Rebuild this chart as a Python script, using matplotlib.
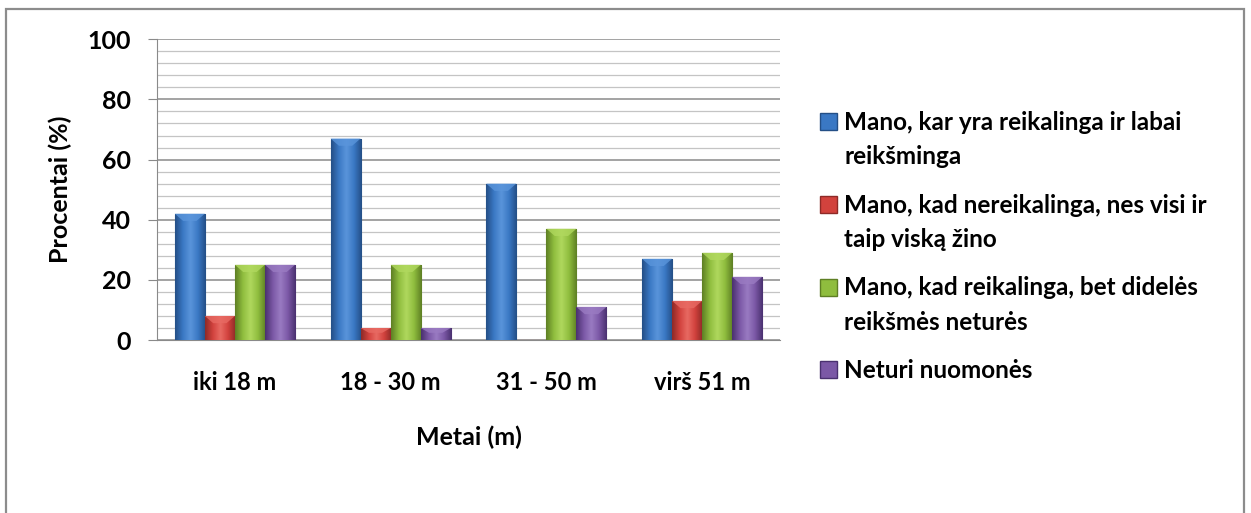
import numpy as np
import matplotlib
matplotlib.use("Agg")
import matplotlib.pyplot as plt
from matplotlib.patches import Rectangle
from matplotlib.colors import LinearSegmentedColormap
from matplotlib.legend_handler import HandlerPatch

plt.rcParams['font.family'] = ['Lato', 'DejaVu Sans']

# Data
categories = ["iki 18 m", "18 - 30 m", "31 - 50 m", "virš 51 m"]
series_names = [
    "Mano, kar yra reikalinga ir labai\nreikšminga",
    "Mano, kad nereikalinga, nes visi ir\ntaip viską žino",
    "Mano, kad reikalinga, bet didelės\nreikšmės neturės",
    "Neturi nuomonės",
]
blue_vals = [42, 67, 52, 27]
red_vals = [8, 4, 0, 13]
green_vals = [25, 25, 37, 29]
purple_vals = [25, 4, 11, 21]
series_values = [blue_vals, red_vals, green_vals, purple_vals]

# (dark edge, mid, light) per series
colors = [
    ("#244f86", "#3a78c4", "#5a95db"),
    ("#8e2a27", "#d2423d", "#e86a63"),
    ("#5e7f24", "#8fbd3e", "#b0d85e"),
    ("#4a3170", "#7b58a6", "#9a7bc2"),
]

fig = plt.figure(figsize=(12.51, 5.13), dpi=100)
# outer chart border (bottom edge runs off the image)
fig.patches.append(Rectangle((0.0048, -0.02), 0.9896, 1.0034, transform=fig.transFigure,
                             fill=False, edgecolor="#8c8c8c", linewidth=1.6))

ax = fig.add_axes([0.1255, 0.3372, 0.498, 0.5862])
x = np.arange(len(categories))
width = 0.193
offsets = (np.arange(4) - 1.5) * width

for i, vals in enumerate(series_values):
    dark, mid, light = colors[i]
    cmap = LinearSegmentedColormap.from_list("b%d" % i, [dark, mid, light, mid, dark])
    bars = ax.bar(x + offsets[i], vals, width, color=mid, edgecolor=dark,
                  linewidth=0.8, zorder=3)
    grad = np.linspace(0, 1, 64).reshape(1, -1)
    for b in bars:
        if b.get_height() <= 0:
            continue
        x0, w, h = b.get_x(), b.get_width(), b.get_height()
        im = ax.imshow(grad, cmap=cmap, extent=[x0, x0 + w, 0, h], aspect="auto",
                       zorder=3.5, interpolation="bicubic")
        im.set_clip_path(b)
        # bevel highlight at the top
        bev = min(2.4, h * 0.4)
        ax.fill([x0, x0 + w, x0 + w * 0.72, x0 + w * 0.28],
                [h, h, h - bev, h - bev],
                color=light, alpha=0.8, zorder=4, linewidth=0)

ax.set_xlim(-0.5, 3.5)
ax.set_ylim(0, 100)
ax.set_yticks(np.arange(0, 101, 20))
ax.set_yticks(np.arange(0, 101, 4), minor=True)
ax.grid(axis="y", which="major", color="#8a8a8a", linewidth=1.1, zorder=0)
ax.grid(axis="y", which="minor", color="#c4c4c4", linewidth=0.9, zorder=0)
ax.set_xticks(x)
ax.set_xticklabels(categories, fontsize=17, fontweight="bold")
ax.tick_params(axis="x", length=0, pad=22)
ax.tick_params(axis="y", which="major", length=6.5, color="#8a8a8a", labelsize=18, pad=12)
ax.tick_params(axis="y", which="minor", length=0)
for lbl in ax.get_yticklabels():
    lbl.set_fontweight("bold")
for side in ["top", "right"]:
    ax.spines[side].set_visible(False)
ax.spines["left"].set_color("#8a8a8a")
ax.spines["bottom"].set_color("#8a8a8a")
ax.set_ylabel("Procentai (%)", fontsize=18, fontweight="bold", labelpad=11)
ax.set_xlabel("Metai (m)", fontsize=18, fontweight="bold", labelpad=23)


# legend square sits on the first line of a wrapped label
def square_at_first_line(shift):
    def make(legend, orig_handle, xdescent, ydescent, width, height, fontsize):
        return Rectangle((-xdescent, -ydescent + shift), width, height)
    return make


handles = [Rectangle((0, 0), 1, 1, facecolor=c[1], edgecolor=c[0]) for c in colors]
hmap = {}
for h, name in zip(handles, series_names):
    n_lines = name.count("\n") + 1
    hmap[h] = HandlerPatch(patch_func=square_at_first_line(13.3 * (n_lines - 1)))

leg = fig.legend(handles, series_names, loc="upper left", bbox_to_anchor=(0.638, 0.827),
                 frameon=False, handler_map=hmap,
                 prop={"size": 17.5, "weight": "bold"},
                 handlelength=0.7, handleheight=0.7,
                 handletextpad=0.3, labelspacing=1.05)
for t in leg.get_texts():
    t.set_linespacing(1.6)

fig.savefig("out.png", dpi=100)
